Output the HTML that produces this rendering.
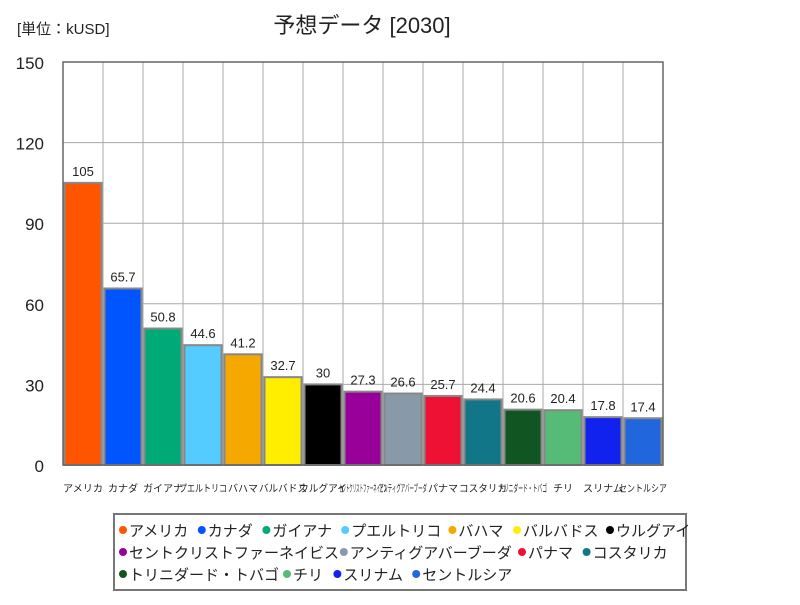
<!DOCTYPE html>
<html><head><meta charset="utf-8"><style>
body{margin:0;background:#fff;width:800px;height:600px;overflow:hidden;font-family:"Liberation Sans","Noto Sans CJK JP",sans-serif}
</style></head><body>
<svg id="c" width="800" height="600" xmlns="http://www.w3.org/2000/svg">
<text x="17" y="34" font-size="15" fill="#222" font-family="Liberation Sans, Noto Sans CJK JP, sans-serif">[単位：kUSD]</text>
<text x="362" y="33" font-size="22" fill="#222" text-anchor="middle" font-family="Liberation Sans, Noto Sans CJK JP, sans-serif">予想データ [2030]</text>
<g id="grid"></g><g id="bars"></g><g id="axes"></g>
<rect x="114" y="514" width="572" height="76" fill="none" stroke="#777" stroke-width="2"/>
<g id="legend"></g>
</svg>
<script>
const categories=["アメリカ","カナダ","ガイアナ","プエルトリコ","バハマ","バルバドス","ウルグアイ","セントクリストファーネイビス","アンティグアバーブーダ","パナマ","コスタリカ","トリニダード・トバゴ","チリ","スリナム","セントルシア"];
const values=[105,65.7,50.8,44.6,41.2,32.7,30,27.3,26.6,25.7,24.4,20.6,20.4,17.8,17.4];
const colors=["#FF5500","#0055FF","#00AA77","#55CCFF","#F5A800","#FFEE00","#000000","#990099","#8899AA","#EE1133","#117788","#115522","#55BB77","#1122EE","#2266DD"];
const ticks=[0,30,60,90,120,150];
const NS="http://www.w3.org/2000/svg";
const X0=63,X1=663,Y0=465,Y1=62,MAX=150;
const band=(X1-X0)/categories.length;
const y=v=>Y0-(v/MAX)*(Y0-Y1);
const x=i=>X0+i*band;
function mk(t,a,p){const e=document.createElementNS(NS,t);for(const k in a)e.setAttribute(k,a[k]);p.appendChild(e);return e;}
const g=document.getElementById('grid'),b=document.getElementById('bars'),ax=document.getElementById('axes'),lg=document.getElementById('legend');
ticks.forEach(t=>{
 const l=mk('line',{x1:X0,x2:X1,y1:y(t),y2:y(t),stroke:'#aaa','stroke-width':1},g);
 
 
 const tx=mk('text',{x:44,y:y(t)+7,'font-size':17,'text-anchor':'end',fill:'#222'},ax);
 tx.textContent=t;
 
 
});
for(let i=1;i<categories.length;i++){
 const l=mk('line',{x1:x(i),x2:x(i),y1:Y1,y2:Y0,stroke:'#aaa','stroke-width':1},g);
 
 
}
const fr=mk('rect',{x:X0,y:Y1,width:X1-X0,height:Y0-Y1,fill:'none',stroke:'#666','stroke-width':1.5},ax);


categories.forEach((c,i)=>{
 const r=mk('rect',{x:x(i)+1.5,y:y(values[i]),width:band-3,height:Y0-y(values[i]),fill:colors[i],stroke:'#888','stroke-width':2},b);
 
 
 const v=mk('text',{x:x(i)+band/2,y:y(values[i])-7,'font-size':13,'text-anchor':'middle',fill:'#222'},b);
 v.textContent=values[i];
 
 
 const cl=mk('text',{x:x(i)+band/2,y:492,'font-size':10,'text-anchor':'middle',fill:'#222',textLength:Math.min(c.length*10,band+8),lengthAdjust:'spacingAndGlyphs'},ax);
 cl.textContent=c;
 
 
});
const rows=[[0,1,2,3,4,5,6],[7,8,9,10],[11,12,13,14]];
rows.forEach((row,ri)=>{
 let cx=119;
 row.forEach(i=>{
  const yy=530+ri*22;
  const d=mk('circle',{cx:cx+4,cy:yy,r:4,fill:colors[i]},lg);
  
  
  const t=mk('text',{x:cx+10,y:yy+6,'font-size':15,fill:'#222'},lg);
  t.textContent=categories[i];
  
  
  cx+=10+categories[i].length*14.2+12;
 });
});
</script>
</body></html>
